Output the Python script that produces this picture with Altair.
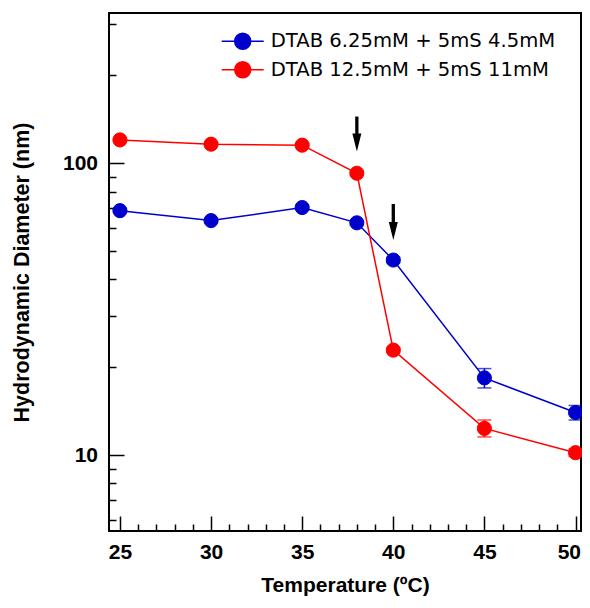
import altair as alt
import pandas as pd

# ---------------- data ----------------
temps = [25, 30, 35, 38, 40, 45, 50]
series_names = ["DTAB 6.25mM + 5mS 4.5mM", "DTAB 12.5mM + 5mS 11mM"]
series_colors = ["#0000CC", "#FF0000"]

blue_vals = [68.8, 63.6, 70.5, 62.5, 46.6, 18.4, 14.0]
blue_lo = [67.8, 62.6, 69.5, 61.5, 45.6, 17.0, 13.2]
blue_hi = [69.8, 64.6, 71.5, 63.5, 47.6, 19.8, 14.8]

red_vals = [120.2, 116.2, 115.3, 92.4, 22.9, 12.35, 10.2]
red_lo = [118.5, 114.6, 113.7, 91.0, 22.5, 11.55, 9.9]
red_hi = [121.9, 117.8, 116.9, 93.8, 23.3, 13.2, 10.5]

arrow_x = [38, 40]
arrow_top = [144.5, 72.5]
arrow_shaft_end = [117.4, 58.2]
arrow_tip = [109.6, 54.6]

x_major = [25, 30, 35, 40, 45, 50]
x_minor = [26, 27, 28, 29, 31, 32, 33, 34, 36, 37, 38, 39, 41, 42, 43, 44, 46, 47, 48, 49]
y_major = [10, 100]
y_minor = [6, 7, 8, 9, 20, 30, 40, 50, 60, 70, 80, 90, 200, 300]

# ---------------- tables ----------------
rows = []
for name, vals, lo, hi in [(series_names[0], blue_vals, blue_lo, blue_hi),
                           (series_names[1], red_vals, red_lo, red_hi)]:
    for t, v, l, h in zip(temps, vals, lo, hi):
        rows.append({"T": t, "D": v, "lo": l, "hi": h, "series": name})
df = pd.DataFrame(rows)

caps = pd.concat([
    df[["T", "series"]].assign(v=df["lo"]),
    df[["T", "series"]].assign(v=df["hi"]),
])

arrows = pd.DataFrame({"T": arrow_x, "top": arrow_top, "end": arrow_shaft_end, "tip": arrow_tip})

x_scale = alt.Scale(domain=[24.4, 50.3], nice=False, zero=False)
y_scale = alt.Scale(type="log", domain=[5.5, 327], nice=False)
col_scale = alt.Scale(domain=series_names, range=series_colors)

FONT = "Liberation Sans"

x_major_axis = alt.Axis(
    values=x_major, orient="bottom", offset=-15, tickSize=15, tickWidth=1.5,
    tickColor="black", domain=False, grid=False, labelPadding=10,
    labelFont=FONT, labelFontWeight="bold", labelFontSize=21, labelColor="black",
    labelFlush=6, labelFlushOffset=5, labelOverlap=False, format="d",
    title="Temperature (ºC)", titleFont=FONT, titleFontWeight="bold",
    titleFontSize=21, titleColor="black", titlePadding=29, titleBaseline="alphabetic",
)
y_major_axis = alt.Axis(
    values=y_major, orient="left", offset=-15, tickSize=15, tickWidth=1.5,
    tickColor="black", domain=False, grid=False, labelPadding=11.5,
    labelFont=FONT, labelFontWeight="bold", labelFontSize=21, labelColor="black",
    labelFlush=False, labelOverlap=False, format="d",
    title="Hydrodynamic Diameter (nm)", titleFont=FONT, titleFontWeight="bold",
    titleFontSize=21.5, titleColor="black", titlePadding=34, titleBaseline="alphabetic",
)
x_minor_axis = alt.Axis(values=x_minor, orient="bottom", offset=-7, tickSize=7,
                        tickWidth=1.5, tickColor="black", domain=False, grid=False,
                        labels=False, title=None)
y_minor_axis = alt.Axis(values=y_minor, orient="left", offset=-7, tickSize=7,
                        tickWidth=1.5, tickColor="black", domain=False, grid=False,
                        labels=False, title=None)

legend_shape = "M-2.1,0H2.1M0.8,0A0.8,0.8,0,1,1,-0.8,0A0.8,0.8,0,1,1,0.8,0Z"
leg = alt.Legend(
    orient="none", legendX=122.7, legendY=17.2, title=None, padding=0,
    symbolType=legend_shape, symbolSize=400, symbolStrokeWidth=1.5,
    labelOffset=17, rowPadding=6.6, labelFont="DejaVu Sans", labelFontSize=19.6,
    labelColor="black", labelLimit=500,
)

base = alt.Chart(df)

minor = base.mark_point(opacity=0).encode(
    x=alt.X("T:Q", scale=x_scale, axis=x_minor_axis),
    y=alt.Y("D:Q", scale=y_scale, axis=y_minor_axis),
)

lines = base.mark_line(strokeWidth=1.5).encode(
    x=alt.X("T:Q", scale=x_scale, axis=x_major_axis),
    y=alt.Y("D:Q", scale=y_scale, axis=y_major_axis),
    stroke=alt.Stroke("series:N", scale=col_scale, legend=leg),
)

err = base.mark_rule(strokeWidth=1.5).encode(
    x=alt.X("T:Q", scale=x_scale, axis=None),
    y=alt.Y("lo:Q", scale=y_scale, axis=None),
    y2="hi:Q",
    stroke=alt.Stroke("series:N", scale=col_scale, legend=leg),
)

err_caps = alt.Chart(caps).mark_tick(orient="horizontal", size=14, thickness=1.5).encode(
    x=alt.X("T:Q", scale=x_scale, axis=None),
    y=alt.Y("v:Q", scale=y_scale, axis=None),
    fill=alt.Fill("series:N", scale=col_scale, legend=leg),
)

points = base.mark_point(shape="circle", filled=True, size=200, strokeWidth=1, opacity=1).encode(
    x=alt.X("T:Q", scale=x_scale, axis=None),
    y=alt.Y("D:Q", scale=y_scale, axis=None),
    fill=alt.Fill("series:N", scale=col_scale, legend=leg),
    stroke=alt.Stroke("series:N", scale=col_scale, legend=leg),
)

arrow_shaft = alt.Chart(arrows).mark_rule(strokeWidth=3.3, color="black").encode(
    x=alt.X("T:Q", scale=x_scale, axis=None),
    y=alt.Y("top:Q", scale=y_scale, axis=None),
    y2="end:Q",
)
arrow_head = alt.Chart(arrows).mark_point(
    shape="M-0.45,-1.8L0.45,-1.8L0,0Z", size=400, filled=True, color="black",
    strokeWidth=0, opacity=1,
).encode(
    x=alt.X("T:Q", scale=x_scale, axis=None),
    y=alt.Y("tip:Q", scale=y_scale, axis=None),
)

chart = alt.layer(minor, lines, err, err_caps, points, arrow_shaft, arrow_head).resolve_axis(
    x="independent", y="independent"
).properties(
    width=472, height=518,
    autosize=alt.AutoSizeParams(type="none"),
    padding={"left": 101, "top": 5, "right": 1, "bottom": 69},
).configure_view(stroke="black", strokeWidth=2)

chart.save("out.html", embed_options={"renderer": "svg", "actions": False})
